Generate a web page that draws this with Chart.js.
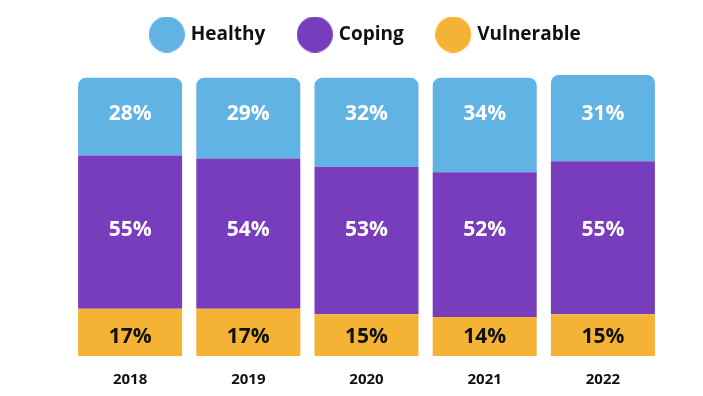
<!DOCTYPE html>
<html>
<head>
<meta charset="utf-8">
<title>Healthy / Coping / Vulnerable</title>
<script src="https://cdn.jsdelivr.net/npm/chart.js@4.4.0/dist/chart.umd.min.js"></script>
<style>
  html, body { margin: 0; padding: 0; background: #fff; }
</style>
</head>
<body>
<canvas id="healthChart" width="703" height="396"></canvas>
<script>
// data
const years = ['2018', '2019', '2020', '2021', '2022'];
const healthy = [28, 29, 32, 34, 31];
const coping = [55, 54, 53, 52, 55];
const vulnerable = [17, 17, 15, 14, 15];

const blue = '#61b3e4';
const purple = '#783dbc';
const orange = '#f5b335';

// big round legend markers
function dot(color) {
    const c = document.createElement('canvas');
    c.width = 36;
    c.height = 36;
    const g = c.getContext('2d');
    g.fillStyle = color;
    g.beginPath();
    g.arc(18, 18, 18, 0, Math.PI * 2);
    g.fill();
    return c;
}

// percentage labels, one row per series
const rowLabels = {
    id: 'rowLabels',
    afterDatasetsDraw(chart) {
        const ctx = chart.ctx;
        const y = chart.scales.y;
        ctx.save();
        ctx.font = 'bold 21px "Open Sans"';
        ctx.textAlign = 'center';
        ctx.textBaseline = 'middle';
        chart.data.datasets.forEach((ds, i) => {
            const meta = chart.getDatasetMeta(i);
            ctx.fillStyle = ds.labelColor;
            meta.data.forEach((bar, j) => {
                ctx.fillText(ds.data[j] + '%', bar.x, y.getPixelForValue(ds.labelAt));
            });
        });
        ctx.restore();
    }
};

const ctx = document.getElementById('healthChart').getContext('2d');

const healthChart = new Chart(ctx, {
    type: 'bar',
    data: {
        labels: years,
        datasets: [{
            label: 'Vulnerable',
            data: vulnerable,
            backgroundColor: orange,
            labelColor: '#111111',
            labelAt: 6.7
        }, {
            label: 'Coping',
            data: coping,
            backgroundColor: purple,
            labelColor: '#ffffff',
            labelAt: 45.4
        }, {
            label: 'Healthy',
            data: healthy,
            backgroundColor: blue,
            borderRadius: 8,
            labelColor: '#ffffff',
            labelAt: 86.9
        }]
    },
    options: {
        responsive: false,
        animation: false,
        layout: {
            padding: { top: -10, left: 71, right: 41, bottom: -7 }
        },
        datasets: {
            bar: {
                barPercentage: 0.88,
                categoryPercentage: 1
            }
        },
        scales: {
            x: {
                stacked: true,
                grid: { display: false, drawTicks: false },
                border: { display: false },
                ticks: {
                    padding: 16,
                    color: '#111111',
                    font: { family: 'Open Sans', size: 15, weight: 'bold', lineHeight: 1 }
                }
            },
            y: {
                stacked: true,
                display: false,
                min: 0,
                max: 108.5
            }
        },
        plugins: {
            tooltip: { enabled: false },
            legend: {
                reverse: true,
                labels: {
                    usePointStyle: true,
                    pointStyleWidth: 29,
                    padding: 35,
                    color: '#111111',
                    font: { family: 'Open Sans', size: 19, weight: 'bold' },
                    generateLabels: function(chart) {
                        return chart.data.datasets.map((ds, i) => ({
                            text: ds.label,
                            pointStyle: dot(ds.backgroundColor),
                            fillStyle: ds.backgroundColor,
                            strokeStyle: ds.backgroundColor,
                            lineWidth: 0,
                            fontColor: '#111111',
                            hidden: false,
                            datasetIndex: i
                        }));
                    }
                }
            }
        }
    },
    plugins: [rowLabels]
});
</script>
</body>
</html>
